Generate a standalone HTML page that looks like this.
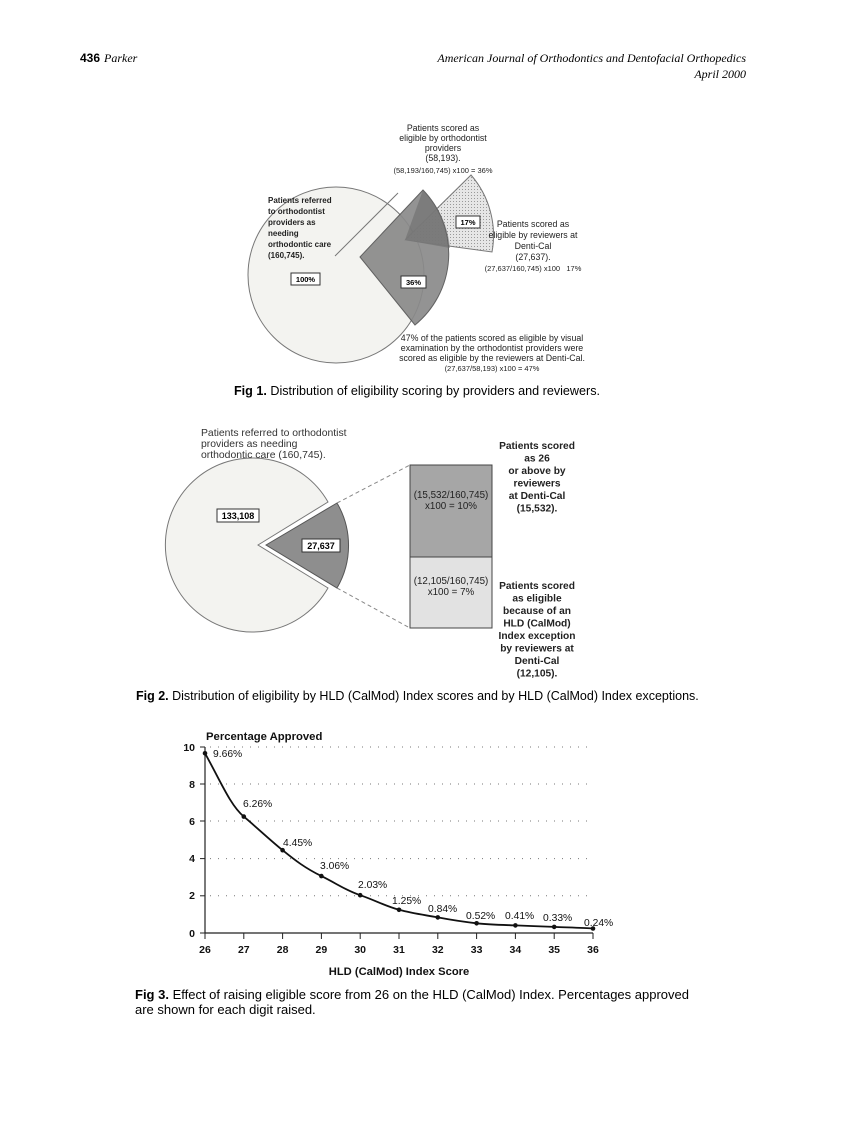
<!DOCTYPE html>
<html><head><meta charset="utf-8"><style>
html,body{margin:0;padding:0;background:#fff;}
svg{display:block;font-family:"Liberation Sans",sans-serif;}
</style></head><body>
<svg width="866" height="1122" viewBox="0 0 866 1122" xmlns="http://www.w3.org/2000/svg">
<defs>
<pattern id="dots" width="3" height="3" patternUnits="userSpaceOnUse"><rect width="3" height="3" fill="#e6e6e6"/><rect width="1" height="1" fill="#999"/></pattern>
</defs>
<text x="80" y="62" font-size="12" font-weight="bold">436</text>
<text x="104" y="62" font-size="12" font-style="italic" font-family="Liberation Serif">Parker</text>
<text x="746" y="62" font-size="12" font-style="italic" font-family="Liberation Serif" text-anchor="end">American Journal of Orthodontics and Dentofacial Orthopedics</text>
<text x="746" y="78" font-size="12" font-style="italic" font-family="Liberation Serif" text-anchor="end">April 2000</text>

<!-- FIG 1 -->
<circle cx="336" cy="275" r="88" fill="#f3f3f0" stroke="#777" stroke-width="1"/>
<line x1="335" y1="256" x2="398" y2="193" stroke="#777" stroke-width="1"/>
<path d="M405,240 L471,175 A92,92 0 0 1 492,252 Z" fill="url(#dots)" stroke="#777" stroke-width="1"/>
<path d="M360,257 L423,190 A92,92 0 0 1 415,325 Z" fill="#8a8a8a" stroke="#555" stroke-width="1" opacity="0.92"/>
<path d="M405,240 L423,190 A92,92 0 0 1 450,248 Z" fill="#666" opacity="0.5"/>
<g font-size="8.8" fill="#222" text-anchor="middle">
<text x="443" y="131">Patients scored as</text>
<text x="443" y="141">eligible by orthodontist</text>
<text x="443" y="151">providers</text>
<text x="443" y="161">(58,193).</text>
<text x="443" y="173" font-size="7.5">(58,193/160,745) x100 = 36%</text>
<text x="533" y="227">Patients scored as</text>
<text x="533" y="238">eligible by reviewers at</text>
<text x="533" y="249">Denti-Cal</text>
<text x="533" y="260">(27,637).</text>
<text x="533" y="271" font-size="7.5">(27,637/160,745) x100 &#160; 17%</text>
<text x="492" y="341">47% of the patients scored as eligible by visual</text>
<text x="492" y="351">examination by the orthodontist providers were</text>
<text x="492" y="361">scored as eligible by the reviewers at Denti-Cal.</text>
<text x="492" y="371" font-size="7.5">(27,637/58,193) x100 = 47%</text>
</g>
<g font-size="8" font-weight="bold" fill="#222">
<text x="268" y="203">Patients referred</text>
<text x="268" y="214">to orthodontist</text>
<text x="268" y="225">providers as</text>
<text x="268" y="236">needing</text>
<text x="268" y="247">orthodontic care</text>
<text x="268" y="258">(160,745).</text>
</g>
<rect x="291" y="273" width="29" height="12" fill="#fff" stroke="#333"/>
<text x="305.5" y="282" font-size="7.5" font-weight="bold" text-anchor="middle">100%</text>
<rect x="401" y="276" width="25" height="12" fill="#fff" stroke="#333"/>
<text x="413.5" y="285" font-size="7.5" font-weight="bold" text-anchor="middle">36%</text>
<rect x="456" y="216" width="24" height="12" fill="#fff" stroke="#333"/>
<text x="468" y="225" font-size="7.5" font-weight="bold" text-anchor="middle">17%</text>
<text x="417" y="395" font-size="12.6" text-anchor="middle"><tspan font-weight="bold">Fig 1.</tspan> Distribution of eligibility scoring by providers and reviewers.</text>

<!-- FIG 2 -->
<path d="M258,545 L328,502 A87,87 0 1 0 328,588 Z" fill="#f3f3f0" stroke="#777" stroke-width="1"/>
<path d="M266,545 L337,503 A84,84 0 0 1 337,588 Z" fill="#8e8e8e" stroke="#555" stroke-width="1"/>
<line x1="337" y1="503" x2="410" y2="465" stroke="#888" stroke-dasharray="4,3"/>
<line x1="337" y1="588" x2="410" y2="628" stroke="#888" stroke-dasharray="4,3"/>
<rect x="410" y="465" width="82" height="92" fill="#a6a6a6" stroke="#444"/>
<rect x="410" y="557" width="82" height="71" fill="#e2e2e2" stroke="#444"/>
<g font-size="9.8" fill="#222" text-anchor="middle">
<text x="451" y="498">(15,532/160,745)</text>
<text x="451" y="509">x100 = 10%</text>
<text x="451" y="584">(12,105/160,745)</text>
<text x="451" y="595">x100 = 7%</text>
</g>
<g font-size="10.4" fill="#333">
<text x="201" y="436">Patients referred to orthodontist</text>
<text x="201" y="447">providers as needing</text>
<text x="201" y="458">orthodontic care (160,745).</text>
</g>
<g font-size="10.2" font-weight="bold" fill="#222" text-anchor="middle">
<text x="537" y="449">Patients scored</text>
<text x="537" y="461.5">as 26</text>
<text x="537" y="474">or above by</text>
<text x="537" y="486.5">reviewers</text>
<text x="537" y="499">at Denti-Cal</text>
<text x="537" y="511.5">(15,532).</text>
<text x="537" y="589">Patients scored</text>
<text x="537" y="601.5">as eligible</text>
<text x="537" y="614">because of an</text>
<text x="537" y="626.5">HLD (CalMod)</text>
<text x="537" y="639">Index exception</text>
<text x="537" y="651.5">by reviewers at</text>
<text x="537" y="664">Denti-Cal</text>
<text x="537" y="676.5">(12,105).</text>
</g>
<rect x="217" y="509" width="42" height="13" fill="#fff" stroke="#333"/>
<text x="238" y="519" font-size="9" font-weight="bold" text-anchor="middle">133,108</text>
<rect x="302" y="539" width="38" height="13" fill="#fff" stroke="#333"/>
<text x="321" y="549" font-size="9" font-weight="bold" text-anchor="middle">27,637</text>
<text x="136" y="700" font-size="12.5"><tspan font-weight="bold">Fig 2.</tspan> Distribution of eligibility by HLD (CalMod) Index scores and by HLD (CalMod) Index exceptions.</text>

<!-- FIG 3 -->
<g stroke="#777" stroke-width="1" stroke-dasharray="1,7">
<line x1="210" y1="747" x2="593" y2="747"/>
<line x1="210" y1="784" x2="593" y2="784"/>
<line x1="210" y1="821" x2="593" y2="821"/>
<line x1="210" y1="858.6" x2="593" y2="858.6"/>
<line x1="210" y1="895.8" x2="593" y2="895.8"/>
</g>
<line x1="205" y1="747" x2="205" y2="933" stroke="#222" stroke-width="1.2"/>
<line x1="205" y1="933" x2="593" y2="933" stroke="#222" stroke-width="1.2"/>
<g stroke="#222">
<line x1="200" y1="747" x2="205" y2="747"/><line x1="200" y1="784" x2="205" y2="784"/><line x1="200" y1="821" x2="205" y2="821"/><line x1="200" y1="858.6" x2="205" y2="858.6"/><line x1="200" y1="895.8" x2="205" y2="895.8"/><line x1="200" y1="933" x2="205" y2="933"/>
<line x1="205" y1="933" x2="205" y2="939"/><line x1="243.8" y1="933" x2="243.8" y2="939"/><line x1="282.6" y1="933" x2="282.6" y2="939"/><line x1="321.4" y1="933" x2="321.4" y2="939"/><line x1="360.2" y1="933" x2="360.2" y2="939"/><line x1="399" y1="933" x2="399" y2="939"/><line x1="437.8" y1="933" x2="437.8" y2="939"/><line x1="476.6" y1="933" x2="476.6" y2="939"/><line x1="515.4" y1="933" x2="515.4" y2="939"/><line x1="554.2" y1="933" x2="554.2" y2="939"/><line x1="593" y1="933" x2="593" y2="939"/>
</g>
<path d="M205,753.3 C220,780 230,805 243.8,816.6 S270,840 282.6,850.2 S305,868 321.4,876.1 S345,890 360.2,895.2 S385,906 399,909.8 S425,915 437.8,917.4 S465,922 476.6,923.3 S505,925 515.4,925.4 S545,926.5 554.2,926.9 S585,928 593,928.5" fill="none" stroke="#111" stroke-width="1.8"/>
<g fill="#111">
<circle cx="205" cy="753.3" r="2.3"/><circle cx="243.8" cy="816.6" r="2.3"/><circle cx="282.6" cy="850.2" r="2.3"/><circle cx="321.4" cy="876.1" r="2.3"/><circle cx="360.2" cy="895.2" r="2.3"/><circle cx="399" cy="909.8" r="2.3"/><circle cx="437.8" cy="917.4" r="2.3"/><circle cx="476.6" cy="923.3" r="2.3"/><circle cx="515.4" cy="925.4" r="2.3"/><circle cx="554.2" cy="926.9" r="2.3"/><circle cx="593" cy="928.5" r="2.3"/>
</g>
<g font-size="10.3" fill="#111">
<text x="213" y="757">9.66%</text>
<text x="243" y="807">6.26%</text>
<text x="283" y="846">4.45%</text>
<text x="320" y="869">3.06%</text>
<text x="358" y="888">2.03%</text>
<text x="392" y="904">1.25%</text>
<text x="428" y="912">0.84%</text>
<text x="466" y="919">0.52%</text>
<text x="505" y="919">0.41%</text>
<text x="543" y="921">0.33%</text>
<text x="584" y="926">0.24%</text>
</g>
<g font-size="10.5" font-weight="bold" fill="#111" text-anchor="end">
<text x="195" y="751">10</text><text x="195" y="788">8</text><text x="195" y="825">6</text><text x="195" y="862">4</text><text x="195" y="899">2</text><text x="195" y="937">0</text>
</g>
<g font-size="10.5" font-weight="bold" fill="#111" text-anchor="middle">
<text x="205" y="953">26</text><text x="243.8" y="953">27</text><text x="282.6" y="953">28</text><text x="321.4" y="953">29</text><text x="360.2" y="953">30</text><text x="399" y="953">31</text><text x="437.8" y="953">32</text><text x="476.6" y="953">33</text><text x="515.4" y="953">34</text><text x="554.2" y="953">35</text><text x="593" y="953">36</text>
</g>
<text x="206" y="740" font-size="11.3" font-weight="bold" fill="#111">Percentage Approved</text>
<text x="399" y="975" font-size="11.2" font-weight="bold" fill="#111" text-anchor="middle">HLD (CalMod) Index Score</text>
<text x="135" y="999" font-size="13"><tspan font-weight="bold">Fig 3.</tspan> Effect of raising eligible score from 26 on the HLD (CalMod) Index. Percentages approved</text>
<text x="135" y="1014" font-size="13">are shown for each digit raised.</text>
</svg>
</body></html>
